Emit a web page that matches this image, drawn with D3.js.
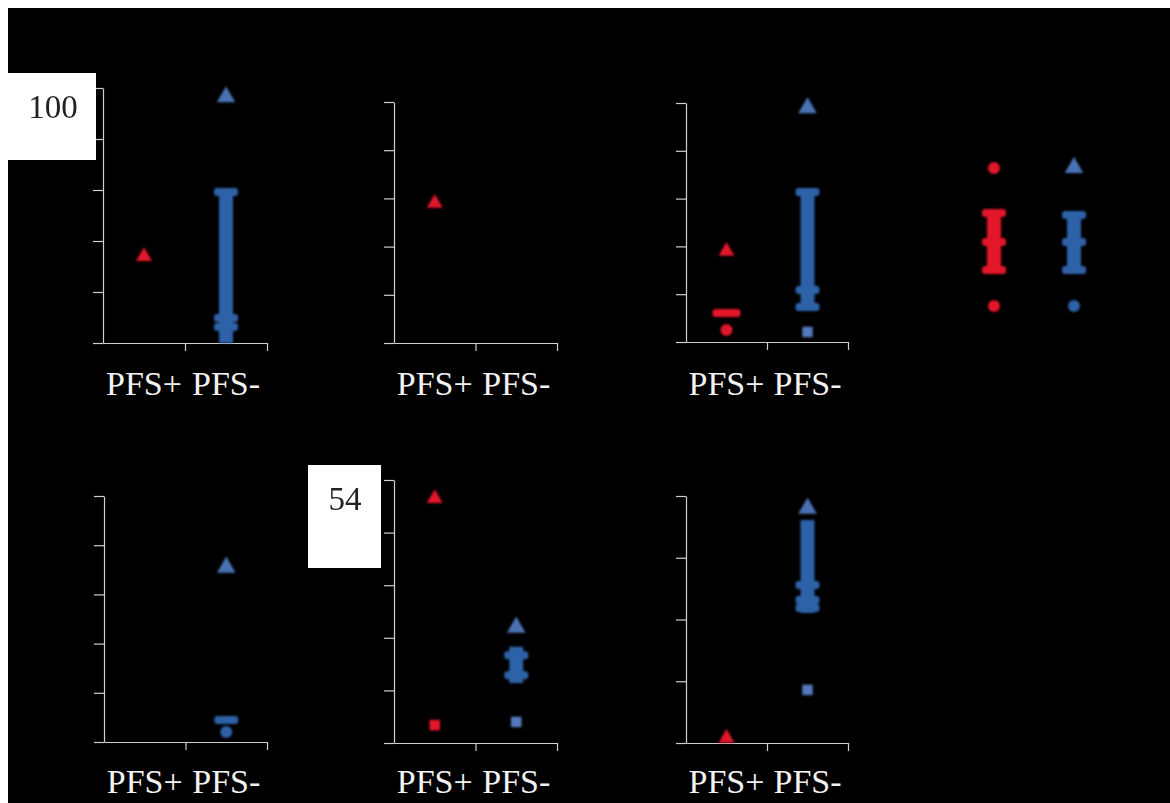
<!DOCTYPE html>
<html>
<head>
<meta charset="utf-8">
<title>PFS dot plots</title>
<script src="https://d3js.org/d3.v7.min.js"></script>
<style>
  html, body { margin: 0; padding: 0; background: #fff; }
  svg { display: block; }
</style>
</head>
<body>
<svg id="chart"></svg>
<script>
// ---- data ----
var groups = ["PFS+", "PFS-"];
var panels = ["A", "B", "C", "D", "E", "F", "G"];
var yMax = [100, 100, 100, 100, 100, 50, 80];
var yTickStep = [20, 20, 20, 20, 20, 10, 20];
var boxLabels = [["A", "100"], ["F", "54"]];

// [panel, group, value]
var triangles = [
  ["A", "PFS+", 34], ["A", "PFS-", 96.5],
  ["B", "PFS+", 58],
  ["C", "PFS+", 38], ["C", "PFS-", 98],
  ["D", "PFS-", 73],
  ["E", "PFS-", 71],
  ["F", "PFS+", 46.5], ["F", "PFS-", 22],
  ["G", "PFS+", 1.6], ["G", "PFS-", 76]
];
var circles = [
  ["A", "PFS-", 2.4],
  ["C", "PFS+", 5],
  ["D", "PFS+", 72.8], ["D", "PFS+", 15.1], ["D", "PFS-", 15.1],
  ["E", "PFS-", 4.1]
];
var squares = [
  ["C", "PFS-", 4.2],
  ["F", "PFS+", 3.4], ["F", "PFS-", 4.0],
  ["G", "PFS-", 17.2]
];
// [panel, group, low, high]
var ranges = [
  ["A", "PFS-", 0, 59.2],
  ["C", "PFS-", 14.6, 62.8],
  ["D", "PFS+", 30.1, 54], ["D", "PFS-", 30.1, 53.1],
  ["F", "PFS-", 11.4, 18.3],
  ["G", "PFS-", 42.1, 72.2]
];
// [panel, group, value]
var dashes = [
  ["A", "PFS-", 59.2], ["A", "PFS-", 9.8], ["A", "PFS-", 6.3],
  ["C", "PFS+", 12.1], ["C", "PFS-", 62.8], ["C", "PFS-", 21.8], ["C", "PFS-", 14.6],
  ["D", "PFS+", 54], ["D", "PFS+", 41.8], ["D", "PFS+", 30.1],
  ["D", "PFS-", 53.1], ["D", "PFS-", 41.8], ["D", "PFS-", 30.1],
  ["E", "PFS-", 8.9],
  ["F", "PFS-", 16.7], ["F", "PFS-", 12.9],
  ["G", "PFS-", 51.2], ["G", "PFS-", 46.3], ["G", "PFS-", 43.7]
];

// ---- layout ----
var W = 1170, H = 803;
var layout = {
  A: { x: 103, top: 88,  bottom: 343, w: 164, axis: true,  label: 395 },
  B: { x: 394, top: 102, bottom: 343, w: 163, axis: true,  label: 395 },
  C: { x: 686, top: 103, bottom: 342, w: 162, axis: true,  label: 395 },
  D: { x: 954, top: 103, bottom: 342, w: 160, axis: false },
  E: { x: 104, top: 496, bottom: 742, w: 163, axis: true,  label: 793 },
  F: { x: 394, top: 480, bottom: 743, w: 163, axis: true,  label: 793 },
  G: { x: 686, top: 496, bottom: 743, w: 162, axis: true,  label: 793 }
};
var boxes = {
  A: { x: 0, y: 73, w: 96, h: 87, tx: 53, ty: 118 },
  F: { x: 308, y: 465, w: 73, h: 103, tx: 345, ty: 510 }
};
var colour = { "PFS+": "#e3142c", "PFS-": "#2f62a8" };
var triColour = { "PFS+": "#e3142c", "PFS-": "#4a72b4" };
var serif = "'Liberation Serif', 'DejaVu Serif', serif";

var svg = d3.select("#chart").attr("width", W).attr("height", H);
svg.append("rect").attr("width", W).attr("height", H).attr("fill", "#fff");
svg.append("rect").attr("x", 8).attr("y", 8).attr("width", W - 8).attr("height", H - 8).attr("fill", "#000");

var defs = svg.append("defs");
defs.append("filter").attr("id", "soft")
  .attr("x", "-50%").attr("y", "-50%").attr("width", "200%").attr("height", "200%")
  .append("feGaussianBlur").attr("stdDeviation", 1.1);

var scales = {};
panels.forEach(function (p, i) {
  var L = layout[p];
  var y = d3.scaleLinear().domain([0, yMax[i]]).range([L.bottom, L.top]);
  var x = d3.scaleBand().domain(groups).range([L.x, L.x + L.w]);
  var xb = d3.scaleLinear().domain([0, groups.length]).range([L.x, L.x + L.w]);
  scales[p] = { x: x, y: y };

  var g = svg.append("g").attr("class", "panel-" + p);
  if (L.axis) {
    var ya = g.append("g")
      .attr("transform", "translate(" + L.x + ",0)")
      .call(d3.axisLeft(y).tickValues(d3.range(0, yMax[i] + 0.001, yTickStep[i]))
        .tickSize(10).tickSizeOuter(0).tickFormat(""));
    var xa = g.append("g")
      .attr("transform", "translate(0," + L.bottom + ")")
      .call(d3.axisBottom(xb).tickValues([1, 2]).tickSize(8).tickSizeOuter(0).tickFormat(""));
    [ya, xa].forEach(function (a) {
      a.selectAll("path, line").attr("stroke", "#cfcfcf").attr("stroke-width", 1.2);
    });
    g.selectAll("text.cat")
      .data(groups)
      .join("text")
      .attr("class", "cat")
      .attr("x", function (d) { return x(d) + x.bandwidth() / 2; })
      .attr("y", L.label)
      .attr("text-anchor", "middle")
      .attr("font-family", serif)
      .attr("font-size", 34)
      .attr("fill", "#f2f2f2")
      .text(function (d) { return d; });
  }
});

function cx(d) { var s = scales[d[0]]; return s.x(d[1]) + s.x.bandwidth() / 2; }
function cy(d, k) { return scales[d[0]].y(d[k || 2]); }

var marks = svg.append("g").attr("filter", "url(#soft)");

marks.selectAll("rect.range")
  .data(ranges)
  .join("rect")
  .attr("class", "range")
  .attr("x", function (d) { return cx(d) - 7; })
  .attr("width", 14)
  .attr("y", function (d) { return cy(d, 3); })
  .attr("height", function (d) { return cy(d, 2) - cy(d, 3); })
  .attr("fill", function (d) { return colour[d[1]]; });

marks.selectAll("rect.dash")
  .data(dashes)
  .join("rect")
  .attr("class", "dash")
  .attr("x", function (d) { return cx(d) - (d[1] === "PFS+" && d[0] === "C" ? 14 : 12); })
  .attr("width", function (d) { return d[1] === "PFS+" && d[0] === "C" ? 28 : 24; })
  .attr("y", function (d) { return cy(d) - 4; })
  .attr("height", 8)
  .attr("rx", 3)
  .attr("fill", function (d) { return colour[d[1]]; });

marks.selectAll("circle.dot")
  .data(circles)
  .join("circle")
  .attr("class", "dot")
  .attr("cx", cx)
  .attr("cy", function (d) { return cy(d); })
  .attr("r", 6)
  .attr("fill", function (d) { return colour[d[1]]; });

marks.selectAll("path.sq")
  .data(squares)
  .join("path")
  .attr("class", "sq")
  .attr("transform", function (d) { return "translate(" + cx(d) + "," + cy(d) + ")"; })
  .attr("d", d3.symbol().type(d3.symbolSquare).size(110))
  .attr("fill", function (d) { return d[1] === "PFS-" ? "#5579bd" : colour[d[1]]; });

marks.selectAll("path.tri")
  .data(triangles)
  .join("path")
  .attr("class", "tri")
  .attr("transform", function (d) { return "translate(" + cx(d) + "," + cy(d) + ")"; })
  .attr("d", function (d) {
    return d3.symbol().type(d3.symbolTriangle).size(d[1] === "PFS-" ? 150 : 110)();
  })
  .attr("fill", function (d) { return triColour[d[1]]; });

// white label boxes
boxLabels.forEach(function (b) {
  var B = boxes[b[0]];
  svg.append("rect").attr("x", B.x).attr("y", B.y).attr("width", B.w).attr("height", B.h).attr("fill", "#fff");
  svg.append("text")
    .attr("x", B.tx).attr("y", B.ty)
    .attr("text-anchor", "middle")
    .attr("font-family", serif)
    .attr("font-size", 33)
    .attr("fill", "#222")
    .text(b[1]);
});
</script>
</body>
</html>
